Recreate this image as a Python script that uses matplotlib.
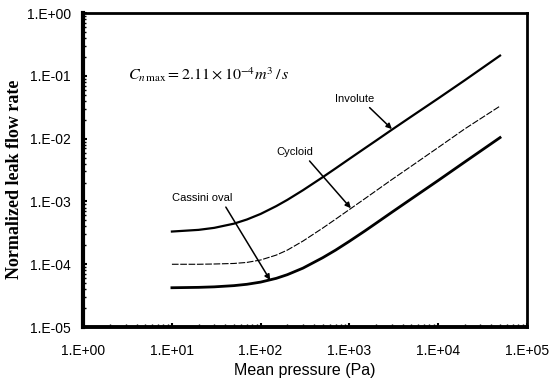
import numpy as np
import matplotlib
matplotlib.use("Agg")
import matplotlib.pyplot as plt

# DATA ------------------------------------------------------------
pressure = [10, 20, 30, 50, 70, 100, 150, 200, 300, 500, 700, 1000,
            1500, 2000, 3000, 5000, 10000, 20000, 50000]  # Pa

involute = [3.32e-4, 3.53e-4, 3.8e-4, 4.43e-4, 5.16e-4, 6.33e-4, 8.43e-4,
            1.06e-3, 1.51e-3, 2.43e-3, 3.36e-3, 4.76e-3, 7.05e-3, 9.3e-3,
            1.38e-2, 2.25e-2, 4.35e-2, 8.5e-2, 0.21]
cycloid = [1.0e-4, 1.0e-4, 1.01e-4, 1.03e-4, 1.07e-4, 1.17e-4, 1.4e-4,
           1.68e-4, 2.34e-4, 3.76e-4, 5.22e-4, 7.43e-4, 1.11e-3, 1.48e-3,
           2.22e-3, 3.65e-3, 7.2e-3, 1.43e-2, 3.3e-2]
cassini = [4.23e-5, 4.29e-5, 4.37e-5, 4.57e-5, 4.8e-5, 5.2e-5, 5.97e-5,
           6.83e-5, 8.68e-5, 1.27e-4, 1.68e-4, 2.32e-4, 3.4e-4, 4.5e-4,
           6.7e-4, 1.1e-3, 2.15e-3, 4.25e-3, 1.04e-2]

x_ticks = [1e0, 1e1, 1e2, 1e3, 1e4, 1e5]
x_labels = ["1.E+00", "1.E+01", "1.E+02", "1.E+03", "1.E+04", "1.E+05"]
y_ticks = [1e-5, 1e-4, 1e-3, 1e-2, 1e-1, 1e0]
y_labels = ["1.E-05", "1.E-04", "1.E-03", "1.E-02", "1.E-01", "1.E+00"]

# PLOT ------------------------------------------------------------
plt.rcParams["mathtext.fontset"] = "stix"
fig = plt.figure(figsize=(5.51, 3.83), dpi=100)
ax = fig.add_axes([0.151, 0.146, 0.805, 0.820])

ax.plot(pressure, involute, color="black", lw=1.6)
ax.plot(pressure, cycloid, color="black", lw=0.8, ls=(0, (6, 1.5)))
ax.plot(pressure, cassini, color="black", lw=2.0)

ax.set_xscale("log")
ax.set_yscale("log")
ax.set_xlim(1e0, 1e5)
ax.set_ylim(1e-5, 1e0)

ax.set_xticks(x_ticks)
ax.set_xticklabels(x_labels, family="Liberation Sans", fontsize=10)
ax.set_yticks(y_ticks)
ax.set_yticklabels(y_labels, family="Liberation Sans", fontsize=10)
ax.tick_params(axis="x", which="major", direction="in", length=3, width=1.5, pad=12)
ax.tick_params(axis="y", which="major", direction="in", length=3, width=1.5, pad=9)
ax.tick_params(which="minor", direction="in", length=2, width=1)

for side, w in [("left", 3.0), ("bottom", 2.8), ("top", 2.0), ("right", 2.0)]:
    ax.spines[side].set_linewidth(w)

ax.set_xlabel("Mean pressure (Pa)", family="Liberation Sans", fontsize=11.5, labelpad=4)
ax.set_ylabel("Normalized leak flow rate", family="Liberation Serif",
              fontsize=13, fontweight="bold")
ax.yaxis.set_label_coords(-0.135, 0.47)

ax.text(26, 0.103, r"$C_{n\,\max}=2.11\times10^{-4}m^3\,/\,s$",
        fontsize=11.5, ha="center", va="center")

arrow = dict(arrowstyle="-|>", color="black", lw=1.1, mutation_scale=8,
             shrinkA=1, shrinkB=0)
ax.annotate("Involute", xy=(3020, 0.0142), xytext=(1150, 0.043),
            ha="center", va="center", fontsize=8, family="Liberation Sans",
            arrowprops=dict(arrow, relpos=(0.78, 0)))
ax.annotate("Cycloid", xy=(1040, 7.8e-4), xytext=(245, 6.1e-3),
            ha="center", va="center", fontsize=8, family="Liberation Sans",
            arrowprops=dict(arrow, relpos=(0.8, 0)))
ax.annotate("Cassini oval", xy=(128, 5.6e-5), xytext=(22, 1.13e-3),
            ha="center", va="center", fontsize=8, family="Liberation Sans",
            arrowprops=dict(arrow, relpos=(0.85, 0)))

fig.savefig("out.png", dpi=100)
